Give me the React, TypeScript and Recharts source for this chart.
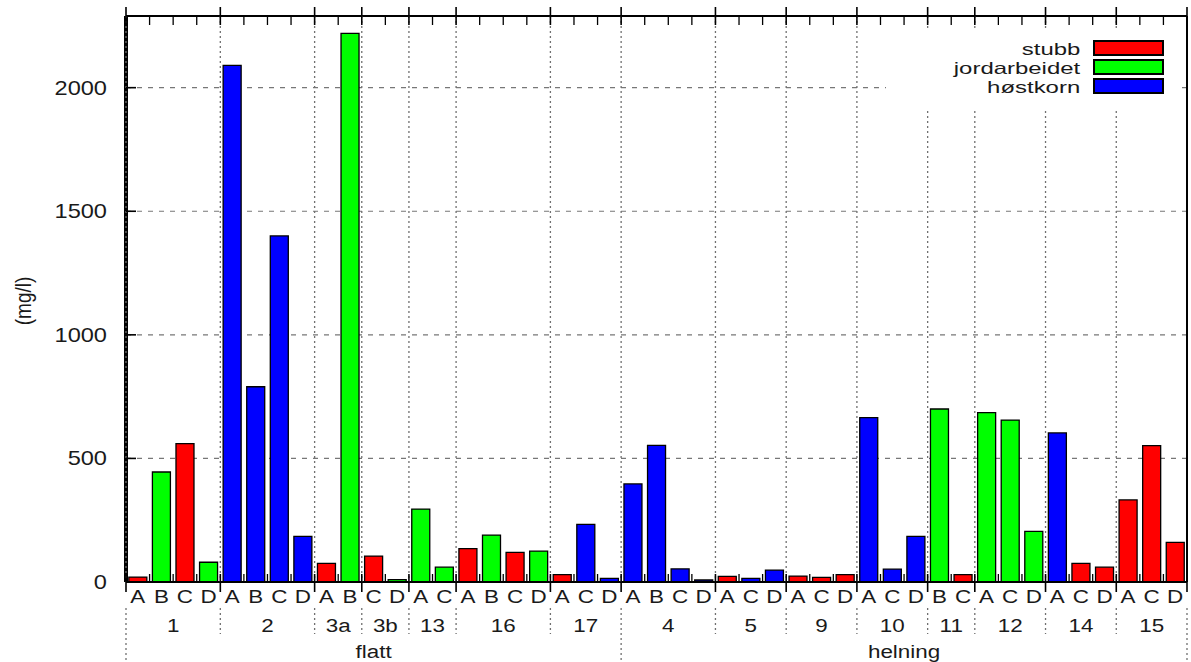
import { BarChart, Bar, XAxis, YAxis, CartesianGrid, Legend } from "recharts";

const kinds = ["stubb", "jordarbeidet", "høstkorn"];
const kindKeys = ["stubb", "jordarbeidet", "hostkorn"];
const kindColors = ["#ff0000", "#00ff00", "#0000ff"];

const regions = ["flatt", "helning"];
const sites = ["1", "2", "3a", "3b", "13", "16", "17", "4", "5", "9", "10", "11", "12", "14", "15"];
const siteRegion = [0, 0, 0, 0, 0, 0, 0, 1, 1, 1, 1, 1, 1, 1, 1];
const siteLetters = ["ABCD", "ABCD", "AB", "CD", "AC", "ABCD", "ACD", "ABCD", "ACD", "ACD", "ACD", "BC", "ACD", "ACD", "ACD"];
// 0 = stubb, 1 = jordarbeidet, 2 = høstkorn
const siteKinds = [
  [0, 1, 0, 1], [2, 2, 2, 2], [0, 1], [0, 1], [1, 1], [0, 1, 0, 1], [0, 2, 2],
  [2, 2, 2, 2], [0, 2, 2], [0, 0, 0], [2, 2, 2], [1, 0], [1, 1, 1], [2, 0, 0], [0, 0, 0],
];
const siteValues = [
  [20, 445, 560, 80], [2090, 790, 1400, 185], [75, 2220], [105, 10], [295, 60],
  [135, 190, 120, 125], [30, 233, 15], [397, 553, 53, 8], [23, 15, 48], [24, 19, 30],
  [665, 52, 185], [700, 30], [685, 655, 205], [603, 75, 60], [332, 552, 160],
];
const yTicks = [0, 500, 1000, 1500, 2000];

const W = 1191;
const H = 662;
const PLOT_TOP = 16;
const LEFT_W = 126;
const RIGHT_W = 4;
const BOTTOM_H = 80;
const FONT = '"Liberation Sans", Arial, Helvetica, sans-serif';
const SX = 1.18; // the reference text is a bit stretched sideways
const INK = "#1a1a1a";

const regionSize = regions.map((_, r) =>
  siteLetters.reduce((n, l, i) => n + (siteRegion[i] === r ? l.length : 0), 0)
);

const rows: any[] = [];
sites.forEach((site, si) => {
  const letters = siteLetters[si].split("");
  const regionStart = si === 0 || siteRegion[si - 1] !== siteRegion[si];
  letters.forEach((letter, li) => {
    const row: any = {
      key: site + letter,
      letter,
      site,
      siteStart: li === 0,
      siteSize: letters.length,
      regionStart: regionStart && li === 0,
      region: regions[siteRegion[si]],
      regionSize: regionSize[siteRegion[si]],
    };
    row[kindKeys[siteKinds[si][li]]] = siteValues[si][li];
    rows.push(row);
  });
});
const rowByKey: Record<string, any> = {};
rows.forEach((r, i) => (rowByKey[r.key] = { ...r, idx: i }));
const N = rows.length;
const BAND = (W - LEFT_W - RIGHT_W) / N;

const dotted = { stroke: "#707070", strokeWidth: 1.3, strokeDasharray: "2 3" };

function sText(x: number, y: number, txt: string, size: number, anchor = "middle") {
  return (
    <text
      transform={`translate(${x},${y}) scale(${SX},1)`}
      textAnchor={anchor}
      fontSize={size}
      fill={INK}
      fontFamily={FONT}
    >
      {txt}
    </text>
  );
}

function BottomTick(props: any) {
  const { x, y, payload } = props;
  const row = rowByKey[payload.value];
  if (!row) return null;
  const half = payload.offset || BAND / 2;
  const left = x - half;
  const right = x + half;
  return (
    <g>
      {sText(x, y + 21, row.letter, 19)}
      {row.siteStart ? (
        <>
          <line x1={left} x2={left} y1={PLOT_TOP} y2={y} {...dotted} />
          <line x1={left} x2={left} y1={y - 8} y2={y + 10} stroke="#000" strokeWidth={1.6} />
          <line x1={left} x2={left} y1={y + 26} y2={row.regionStart ? H : y + 52} {...dotted} />
          {sText(left + row.siteSize * half, y + 50, row.site, 19)}
        </>
      ) : (
        <line x1={left} x2={left} y1={y - 8} y2={y} stroke="#000" strokeWidth={1.3} />
      )}
      {row.regionStart && sText(left + row.regionSize * half, y + 76, row.region, 19)}
      {row.idx === N - 1 && (
        <>
          <line x1={right} x2={right} y1={y - 8} y2={y + 10} stroke="#000" strokeWidth={1.6} />
          <line x1={right} x2={right} y1={y + 26} y2={H} {...dotted} />
        </>
      )}
    </g>
  );
}

function TopTick(props: any) {
  const { x, y, payload } = props;
  const row = rowByKey[payload.value];
  if (!row) return null;
  const half = payload.offset || BAND / 2;
  const left = x - half;
  const right = x + half;
  return (
    <g stroke="#000">
      {row.siteStart ? (
        <line x1={left} x2={left} y1={y - 9} y2={y + 9} strokeWidth={1.6} />
      ) : (
        <line x1={left} x2={left} y1={y} y2={y + 9} strokeWidth={1.3} />
      )}
      {row.idx === N - 1 && <line x1={right} x2={right} y1={y - 9} y2={y + 9} strokeWidth={1.6} />}
    </g>
  );
}

function LeftTick(props: any) {
  const { x, y, payload } = props;
  return (
    <g>
      <line x1={x} x2={x + 10} y1={y} y2={y} stroke="#000" strokeWidth={1.6} />
      {sText(x - 19, y + 7, String(payload.value), 20, "end")}
    </g>
  );
}

function RightTick(props: any) {
  const { x, y } = props;
  return <line x1={x - 10} x2={x} y1={y} y2={y} stroke="#000" strokeWidth={1.6} />;
}

function YLabel(props: any) {
  const vb = props.viewBox || { x: 0, y: PLOT_TOP, height: 566 };
  const cx = vb.x + 31;
  const cy = vb.y + vb.height / 2 + 2;
  return (
    <text
      transform={`translate(${cx},${cy}) rotate(-90) scale(1,${SX})`}
      textAnchor="middle"
      fontSize={19}
      fill={INK}
      fontFamily={FONT}
    >
      (mg/l)
    </text>
  );
}

function LegendBox() {
  return (
    <div style={{ width: 290, height: 82, background: "#fff", position: "relative", fontFamily: FONT }}>
      {kinds.map((k, i) => {
        const top = 12 + i * 19;
        return (
          <div key={k}>
            <span
              style={{
                position: "absolute",
                right: 96,
                top,
                fontSize: 16.5,
                lineHeight: "19px",
                height: 19,
                color: INK,
                whiteSpace: "nowrap",
                transform: "scaleX(1.45)",
                transformOrigin: "right center",
              }}
            >
              {k}
            </span>
            <div
              style={{
                position: "absolute",
                left: 207,
                top,
                width: 71,
                height: 16,
                background: kindColors[i],
                border: "2px solid #000",
                boxSizing: "border-box",
              }}
            />
          </div>
        );
      })}
    </div>
  );
}

export default function App() {
  return (
    <div style={{ position: "absolute", left: 0, top: 0, width: W, height: H, background: "#fff" }}>
      <BarChart
        width={W}
        height={H}
        data={rows}
        margin={{ top: 0, right: 0, bottom: 0, left: 0 }}
        barCategoryGap="12%"
      >
        <CartesianGrid vertical={false} stroke="#777" strokeDasharray="5 6" strokeWidth={1.2} />
        <XAxis
          dataKey="key"
          height={BOTTOM_H}
          interval={0}
          tickSize={0}
          tickMargin={0}
          tickLine={false}
          axisLine={{ stroke: "#000", strokeWidth: 2 }}
          tick={(p: any) => <BottomTick {...p} />}
        />
        <XAxis
          xAxisId="top"
          orientation="top"
          dataKey="key"
          height={PLOT_TOP}
          interval={0}
          tickSize={0}
          tickMargin={0}
          tickLine={false}
          axisLine={{ stroke: "#000", strokeWidth: 2 }}
          tick={(p: any) => <TopTick {...p} />}
        />
        <YAxis
          width={LEFT_W}
          domain={[0, 2290]}
          ticks={yTicks}
          interval={0}
          tickSize={0}
          tickMargin={0}
          tickLine={false}
          axisLine={{ stroke: "#000", strokeWidth: 4 }}
          tick={(p: any) => <LeftTick {...p} />}
          label={{ content: (p: any) => <YLabel {...p} /> }}
        />
        <YAxis
          yAxisId="right"
          orientation="right"
          width={RIGHT_W}
          domain={[0, 2290]}
          ticks={yTicks}
          interval={0}
          tickSize={0}
          tickMargin={0}
          tickLine={false}
          axisLine={{ stroke: "#000", strokeWidth: 2 }}
          tick={(p: any) => <RightTick {...p} />}
        />
        <Legend
          layout="vertical"
          align="center"
          verticalAlign="middle"
          wrapperStyle={{ left: 886, top: 28, width: 290, height: 82 }}
          content={() => <LegendBox />}
        />
        {kindKeys.map((k, i) => (
          <Bar
            key={k}
            dataKey={k}
            name={kinds[i]}
            stackId="a"
            fill={kindColors[i]}
            stroke="#000"
            strokeWidth={1.3}
            isAnimationActive={false}
          />
        ))}
      </BarChart>
    </div>
  );
}
